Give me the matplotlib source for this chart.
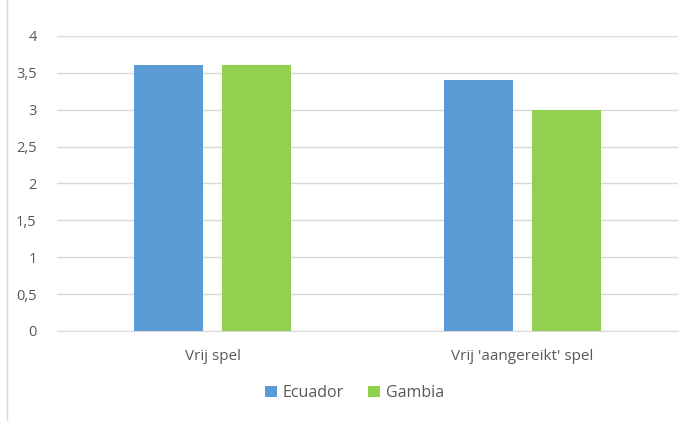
import numpy as np
import matplotlib
matplotlib.use('Agg')
import matplotlib.pyplot as plt
from matplotlib.lines import Line2D

# Data
categories = ["Vrij spel", "Vrij 'aangereikt' spel"]
series_names = ['Ecuador', 'Gambia']
ecuador = [3.6, 3.4]
gambia = [3.6, 3.0]
y_ticks = [0, 0.5, 1, 1.5, 2, 2.5, 3, 3.5, 4]
y_tick_labels = ['0', '0,5', '1', '1,5', '2', '2,5', '3', '3,5', '4']

plt.rcParams['font.family'] = ['Open Sans', 'DejaVu Sans']

fig = plt.figure(figsize=(6.91, 4.21), dpi=100)
ax = fig.add_axes([0.0832, 0.2138, 0.8974, 0.7007])

x = np.arange(len(categories))
width = 0.2226
offset = 0.142
ax.bar(x - offset, ecuador, width, color='#5B9BD5', label=series_names[0], zorder=3)
ax.bar(x + offset, gambia, width, color='#92D050', label=series_names[1], zorder=3)

ax.set_xlim(-0.5, 1.5)
ax.set_ylim(0, 4)
ax.set_yticks(y_ticks)
ax.set_yticklabels(y_tick_labels)
ax.set_xticks(x)
ax.set_xticklabels(categories)
ax.grid(axis='y', color='#D9D9D9', linewidth=1, zorder=0)
for s in ['top', 'right', 'left']:
    ax.spines[s].set_visible(False)
ax.spines['bottom'].set_color('#D9D9D9')
ax.tick_params(axis='both', length=0, colors='#595959')
ax.tick_params(axis='y', pad=15, labelsize=10.5)
ax.tick_params(axis='x', pad=13, labelsize=11)

fig.legend(loc='center', bbox_to_anchor=(0.513, 0.066), ncol=2, frameon=False,
           fontsize=11.5, labelcolor='#595959', handlelength=0.75, handleheight=0.75,
           handletextpad=0.35, columnspacing=1.5)

# faint chart border on the left edge
fig.add_artist(Line2D([0.0105, 0.0105], [0.0, 1.0], color='#D9D9D9', linewidth=1,
                      transform=fig.transFigure))

fig.savefig('out.png', dpi=100)
